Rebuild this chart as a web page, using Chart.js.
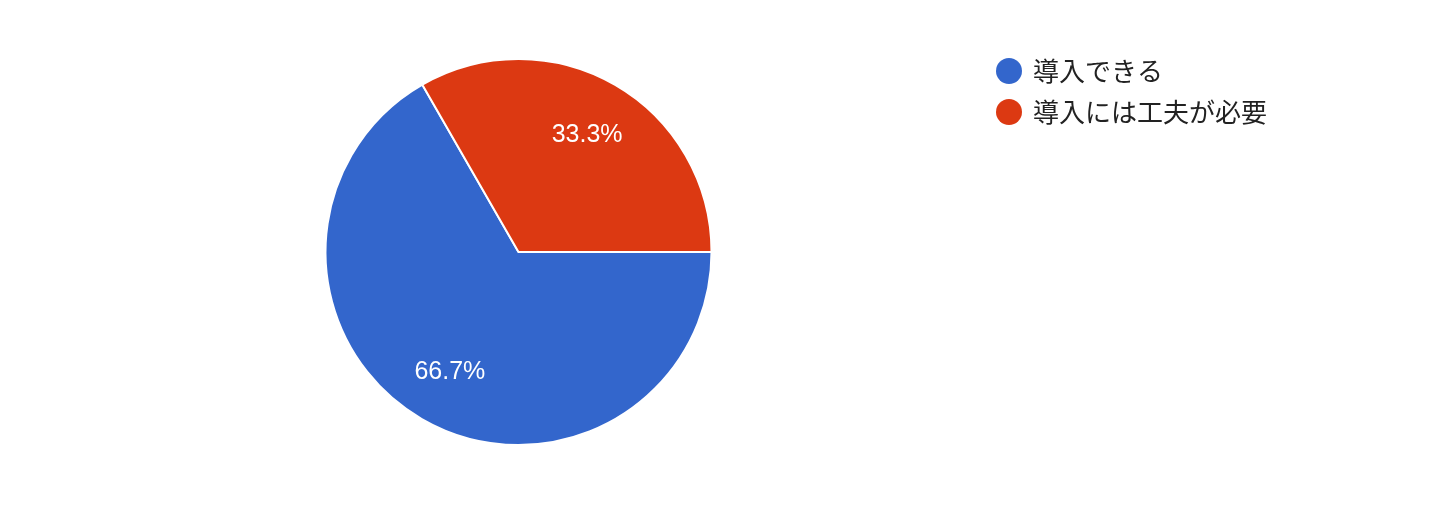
<!DOCTYPE html>
<html><head><meta charset="utf-8">
<script src="https://cdn.jsdelivr.net/npm/chart.js@4"></script>
<style>html,body{margin:0;padding:0;background:#fff;}#wrap{width:1456px;height:511px;position:relative;}</style>
</head><body>
<div id="wrap"><canvas id="c" width="1456" height="511"></canvas></div>
<script>
const categories = ["導入できる", "導入には工夫が必要"];
const values = [66.7, 33.3];
const valueLabels = ["66.7%", "33.3%"];
const colors = ["#3366cc", "#dc3912"];

const sliceLabels = {
  id: 'sliceLabels',
  afterDatasetsDraw(chart) {
    const ctx = chart.ctx;
    const meta = chart.getDatasetMeta(0);
    ctx.save();
    ctx.fillStyle = '#ffffff';
    ctx.font = '25px "Liberation Sans", Arial, sans-serif';
    ctx.textAlign = 'center';
    ctx.textBaseline = 'middle';
    meta.data.forEach((arc, i) => {
      const p = arc.getProps(['x','y','startAngle','endAngle','outerRadius']);
      const mid = (p.startAngle + p.endAngle) / 2;
      const r = p.outerRadius * 0.71;
      ctx.fillText(valueLabels[i], p.x + Math.cos(mid) * r, p.y + Math.sin(mid) * r + 2);
    });
    ctx.restore();
  }
};

const sideLegend = {
  id: 'sideLegend',
  afterDraw(chart) {
    const ctx = chart.ctx;
    ctx.save();
    ctx.font = '26px "Noto Sans CJK JP", sans-serif';
    ctx.textBaseline = 'middle';
    ctx.textAlign = 'left';
    chart.data.labels.forEach((lab, i) => {
      const y = 71 + i * 41;
      ctx.fillStyle = colors[i];
      ctx.beginPath();
      ctx.arc(1009, y, 13, 0, Math.PI * 2);
      ctx.fill();
      ctx.fillStyle = '#222222';
      ctx.fillText(lab, 1033, y);
    });
    ctx.restore();
  }
};

new Chart(document.getElementById('c'), {
  type: 'pie',
  data: {
    labels: categories,
    datasets: [{
      data: values,
      backgroundColor: colors,
      borderColor: '#ffffff',
      borderWidth: 2
    }]
  },
  options: {
    responsive: false,
    animation: false,
    rotation: 90,
    layout: { padding: { left: 324, right: 743, top: 58, bottom: 65 } },
    plugins: { legend: { display: false }, tooltip: { enabled: false } }
  },
  plugins: [sliceLabels, sideLegend]
});
</script>
</body></html>
